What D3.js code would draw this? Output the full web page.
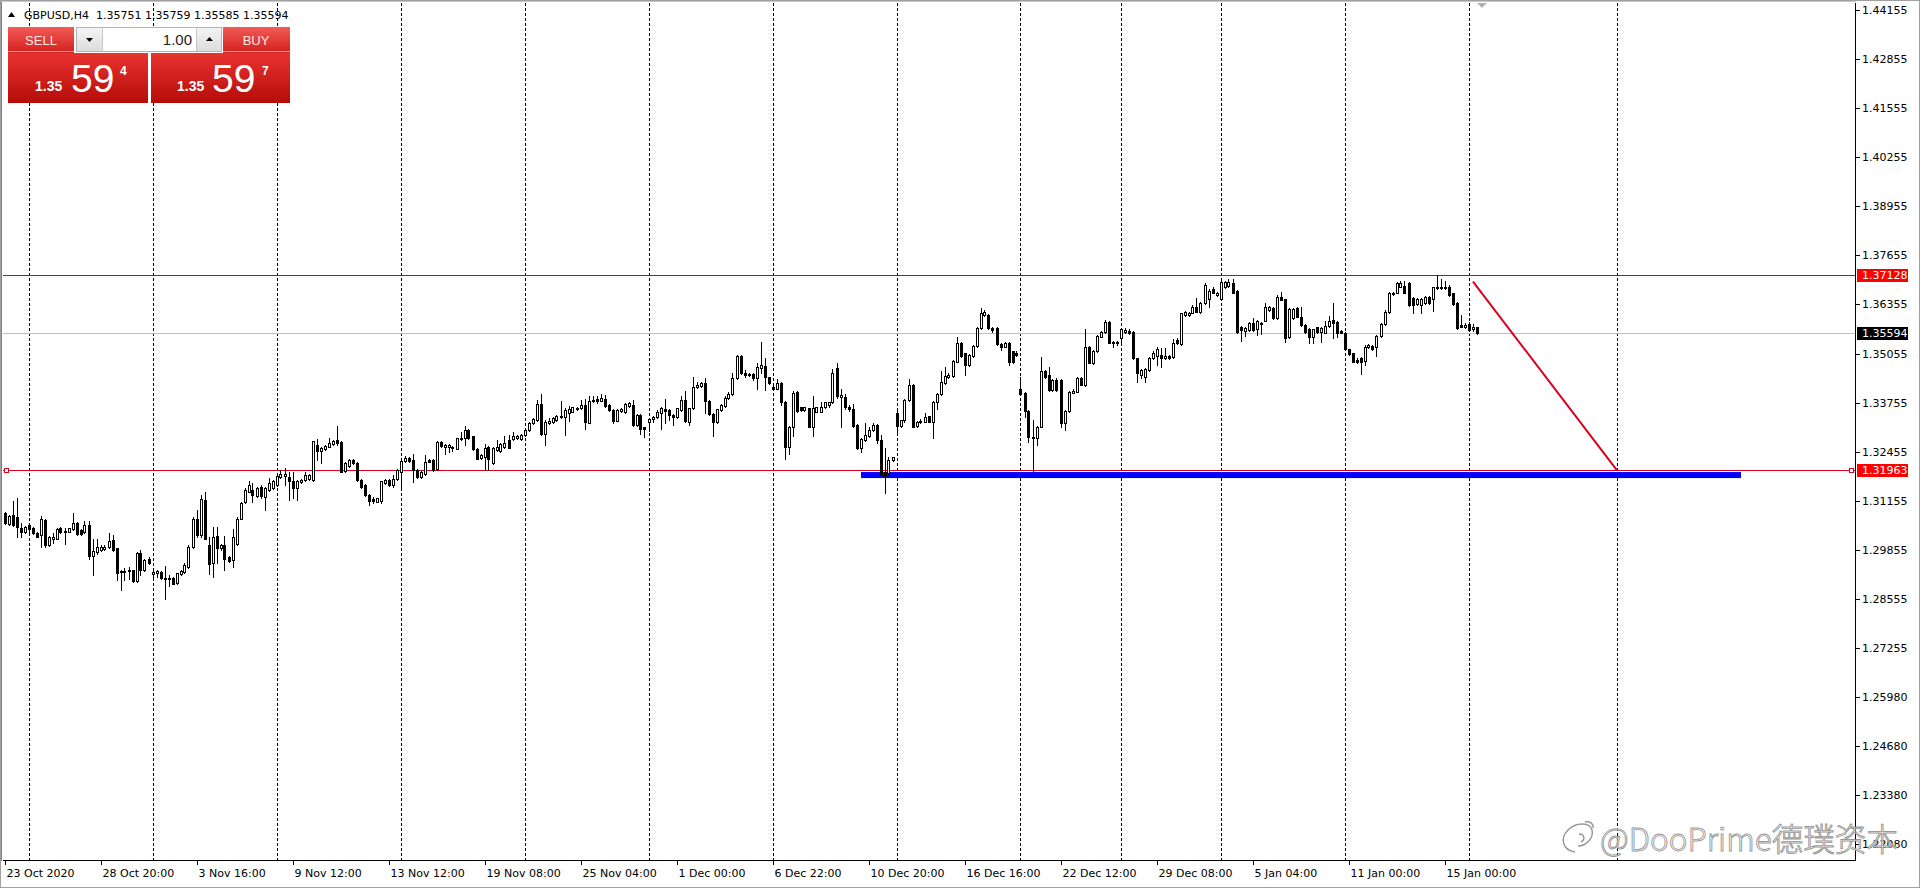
<!DOCTYPE html>
<html><head><meta charset="utf-8">
<script src="https://cdn.jsdelivr.net/npm/d3@7"></script>
<style>
html,body{margin:0;padding:0;background:#fff;overflow:hidden}
svg{display:block}
</style></head><body>
<svg id="chart" width="1920" height="888"></svg>
<script>
// ---------------- DATA ----------------
const symbolName = "GBPUSD,H4";
const currentBar = ["1.35751", "1.35759", "1.35585", "1.35594"];
// candles: [open, high, low, close], one per H4 bar, from 23 Oct 2020 00:00
const candles = [
[1.3083,1.3085,1.3054,1.3056],[1.3054,1.3078,1.3052,1.3076],[1.3078,1.3116,1.3049,1.3052],[1.3074,1.3122,1.3019,1.3047],
[1.3043,1.3058,1.3021,1.3034],[1.3034,1.3049,1.3031,1.3047],[1.3052,1.3056,1.3025,1.3041],[1.3043,1.3047,1.3028,1.3030],
[1.3031,1.3034,1.3019,1.3021],[1.3025,1.3076,1.2994,1.3067],[1.3065,1.3067,1.2994,1.2999],[1.2999,1.3023,1.2996,1.3021],
[1.3014,1.3031,1.3003,1.3021],[1.3016,1.3043,1.3015,1.3040],[1.3043,1.3047,1.3030,1.3034],[1.3037,1.3043,1.3001,1.3032],
[1.3034,1.3045,1.3032,1.3043],[1.3040,1.3083,1.3038,1.3058],[1.3058,1.3061,1.3025,1.3028],[1.3038,1.3040,1.3025,1.3028],
[1.3032,1.3063,1.3030,1.3052],[1.3052,1.3063,1.2963,1.2970],[1.2970,1.3014,1.2919,1.2984],[1.2981,1.3014,1.2975,1.2994],
[1.2985,1.2999,1.2984,1.2994],[1.2988,1.2998,1.2985,1.2994],[1.2994,1.3030,1.2990,1.3010],[1.3012,1.3025,1.2984,1.2985],
[1.2990,1.2990,1.2906,1.2926],[1.2931,1.2934,1.2881,1.2927],[1.2928,1.2937,1.2906,1.2931],[1.2931,1.2940,1.2908,1.2934],
[1.2933,1.2934,1.2902,1.2904],[1.2904,1.2981,1.2902,1.2978],[1.2978,1.2987,1.2919,1.2933],[1.2933,1.2961,1.2931,1.2959],
[1.2961,1.2966,1.2948,1.2950],[1.2922,1.2934,1.2915,1.2928],[1.2924,1.2934,1.2915,1.2931],[1.2928,1.2931,1.2909,1.2911],
[1.2911,1.2943,1.2855,1.2908],[1.2910,1.2919,1.2890,1.2912],[1.2911,1.2913,1.2896,1.2897],[1.2899,1.2926,1.2897,1.2924],
[1.2922,1.2933,1.2919,1.2931],[1.2928,1.2950,1.2926,1.2946],[1.2940,1.2999,1.2937,1.2994],[1.2994,1.3072,1.2990,1.3069],
[1.3069,1.3091,1.3021,1.3025],[1.3025,1.3131,1.3021,1.3120],[1.3118,1.3140,1.3014,1.3016],[1.2999,1.3021,1.2922,1.2948],
[1.2950,1.3047,1.2915,1.3021],[1.3023,1.3047,1.2950,1.2990],[1.2990,1.3001,1.2987,1.2999],[1.2999,1.3023,1.2933,1.2963],
[1.2966,1.2970,1.2955,1.2957],[1.2959,1.3040,1.2940,1.3021],[1.3001,1.3072,1.2999,1.3069],[1.3069,1.3113,1.3067,1.3111],
[1.3112,1.3149,1.3109,1.3144],[1.3140,1.3167,1.3138,1.3158],[1.3144,1.3162,1.3114,1.3131],[1.3129,1.3153,1.3127,1.3149],
[1.3153,1.3158,1.3122,1.3129],[1.3127,1.3153,1.3092,1.3149],[1.3144,1.3177,1.3142,1.3162],[1.3149,1.3171,1.3147,1.3167],
[1.3158,1.3186,1.3156,1.3182],[1.3180,1.3197,1.3177,1.3186],[1.3182,1.3202,1.3158,1.3186],[1.3180,1.3193,1.3118,1.3168],
[1.3168,1.3193,1.3124,1.3149],[1.3151,1.3170,1.3118,1.3168],[1.3165,1.3173,1.3163,1.3171],[1.3171,1.3193,1.3169,1.3184],
[1.3173,1.3186,1.3171,1.3184],[1.3171,1.3274,1.3168,1.3274],[1.3263,1.3279,1.3224,1.3248],[1.3248,1.3258,1.3215,1.3256],
[1.3253,1.3263,1.3251,1.3262],[1.3259,1.3283,1.3257,1.3270],[1.3265,1.3276,1.3263,1.3274],[1.3277,1.3315,1.3263,1.3268],
[1.3272,1.3274,1.3191,1.3193],[1.3196,1.3218,1.3193,1.3215],[1.3209,1.3226,1.3206,1.3224],[1.3224,1.3226,1.3212,1.3215],
[1.3215,1.3218,1.3168,1.3171],[1.3171,1.3173,1.3151,1.3153],[1.3158,1.3160,1.3129,1.3131],[1.3131,1.3133,1.3105,1.3115],
[1.3121,1.3127,1.3109,1.3115],[1.3114,1.3124,1.3112,1.3122],[1.3115,1.3168,1.3109,1.3167],[1.3162,1.3173,1.3160,1.3171],
[1.3171,1.3173,1.3156,1.3158],[1.3158,1.3184,1.3153,1.3173],[1.3173,1.3200,1.3171,1.3197],[1.3193,1.3221,1.3153,1.3221],
[1.3221,1.3235,1.3219,1.3230],[1.3230,1.3233,1.3219,1.3221],[1.3224,1.3241,1.3165,1.3197],[1.3197,1.3200,1.3175,1.3180],
[1.3180,1.3195,1.3177,1.3193],[1.3186,1.3237,1.3184,1.3218],[1.3224,1.3226,1.3218,1.3219],[1.3224,1.3226,1.3195,1.3197],
[1.3200,1.3274,1.3197,1.3272],[1.3272,1.3274,1.3259,1.3262],[1.3259,1.3265,1.3241,1.3263],[1.3259,1.3265,1.3244,1.3263],
[1.3259,1.3262,1.3248,1.3256],[1.3253,1.3283,1.3253,1.3281],[1.3279,1.3297,1.3277,1.3283],[1.3281,1.3315,1.3263,1.3303],
[1.3303,1.3306,1.3279,1.3281],[1.3286,1.3288,1.3250,1.3253],[1.3253,1.3255,1.3226,1.3226],[1.3228,1.3239,1.3226,1.3237],
[1.3233,1.3265,1.3197,1.3256],[1.3259,1.3262,1.3197,1.3226],[1.3215,1.3259,1.3212,1.3256],[1.3250,1.3277,1.3248,1.3259],
[1.3248,1.3268,1.3246,1.3265],[1.3259,1.3286,1.3256,1.3268],[1.3277,1.3290,1.3255,1.3256],[1.3279,1.3297,1.3277,1.3288],
[1.3281,1.3290,1.3279,1.3288],[1.3279,1.3292,1.3278,1.3290],[1.3290,1.3305,1.3288,1.3303],[1.3303,1.3325,1.3300,1.3321],
[1.3321,1.3336,1.3318,1.3332],[1.3330,1.3383,1.3327,1.3371],[1.3372,1.3399,1.3291,1.3293],[1.3293,1.3330,1.3264,1.3325],
[1.3321,1.3334,1.3319,1.3328],[1.3325,1.3337,1.3323,1.3334],[1.3330,1.3343,1.3328,1.3340],[1.3337,1.3381,1.3335,1.3340],
[1.3337,1.3361,1.3290,1.3356],[1.3349,1.3367,1.3328,1.3358],[1.3352,1.3365,1.3350,1.3363],[1.3361,1.3363,1.3356,1.3358],
[1.3361,1.3383,1.3359,1.3369],[1.3369,1.3384,1.3305,1.3325],[1.3323,1.3392,1.3321,1.3381],[1.3380,1.3392,1.3378,1.3383],
[1.3384,1.3393,1.3374,1.3381],[1.3381,1.3399,1.3379,1.3388],[1.3384,1.3396,1.3365,1.3367],[1.3369,1.3372,1.3354,1.3356],
[1.3356,1.3358,1.3321,1.3328],[1.3328,1.3358,1.3326,1.3356],[1.3353,1.3362,1.3351,1.3360],[1.3352,1.3374,1.3349,1.3372],
[1.3367,1.3378,1.3365,1.3374],[1.3369,1.3383,1.3314,1.3316],[1.3316,1.3346,1.3315,1.3343],[1.3343,1.3346,1.3293,1.3305],
[1.3310,1.3312,1.3284,1.3307],[1.3325,1.3334,1.3301,1.3331],[1.3331,1.3339,1.3325,1.3337],[1.3337,1.3356,1.3335,1.3352],
[1.3349,1.3363,1.3305,1.3361],[1.3358,1.3384,1.3321,1.3354],[1.3356,1.3358,1.3330,1.3343],[1.3343,1.3346,1.3316,1.3337],
[1.3337,1.3362,1.3335,1.3361],[1.3356,1.3393,1.3354,1.3383],[1.3383,1.3407,1.3325,1.3328],[1.3325,1.3362,1.3316,1.3361],
[1.3361,1.3443,1.3359,1.3416],[1.3416,1.3431,1.3414,1.3422],[1.3420,1.3431,1.3418,1.3427],[1.3427,1.3440,1.3349,1.3381],
[1.3381,1.3383,1.3344,1.3346],[1.3346,1.3348,1.3286,1.3325],[1.3325,1.3360,1.3323,1.3358],[1.3356,1.3372,1.3354,1.3369],
[1.3367,1.3392,1.3365,1.3388],[1.3388,1.3405,1.3386,1.3399],[1.3399,1.3455,1.3397,1.3440],[1.3440,1.3502,1.3438,1.3499],
[1.3499,1.3501,1.3451,1.3453],[1.3455,1.3462,1.3444,1.3449],[1.3449,1.3455,1.3447,1.3451],[1.3451,1.3453,1.3435,1.3440],
[1.3440,1.3480,1.3413,1.3469],[1.3466,1.3537,1.3453,1.3475],[1.3473,1.3493,1.3409,1.3443],[1.3443,1.3444,1.3425,1.3427],
[1.3418,1.3422,1.3409,1.3411],[1.3413,1.3437,1.3412,1.3427],[1.3427,1.3429,1.3369,1.3376],[1.3378,1.3381,1.3226,1.3257],
[1.3257,1.3314,1.3241,1.3312],[1.3312,1.3407,1.3286,1.3402],[1.3405,1.3407,1.3352,1.3354],[1.3363,1.3365,1.3354,1.3356],
[1.3356,1.3365,1.3354,1.3363],[1.3361,1.3362,1.3310,1.3312],[1.3312,1.3393,1.3287,1.3361],[1.3352,1.3365,1.3350,1.3363],
[1.3352,1.3378,1.3350,1.3365],[1.3363,1.3378,1.3362,1.3376],[1.3369,1.3378,1.3363,1.3376],[1.3376,1.3464,1.3374,1.3455],
[1.3466,1.3480,1.3388,1.3392],[1.3390,1.3411,1.3312,1.3396],[1.3391,1.3398,1.3360,1.3363],[1.3363,1.3369,1.3354,1.3358],
[1.3358,1.3371,1.3312,1.3314],[1.3316,1.3318,1.3252,1.3255],[1.3255,1.3281,1.3246,1.3279],[1.3277,1.3321,1.3275,1.3290],
[1.3288,1.3312,1.3285,1.3303],[1.3303,1.3323,1.3301,1.3316],[1.3316,1.3319,1.3268,1.3277],[1.3277,1.3290,1.3183,1.3184],
[1.3193,1.3255,1.3136,1.3182],[1.3190,1.3233,1.3184,1.3224],[1.3224,1.3233,1.3222,1.3231],[1.3349,1.3356,1.3290,1.3314],
[1.3314,1.3330,1.3312,1.3330],[1.3330,1.3386,1.3325,1.3383],[1.3383,1.3437,1.3381,1.3422],[1.3422,1.3425,1.3310,1.3310],
[1.3314,1.3328,1.3312,1.3325],[1.3325,1.3331,1.3323,1.3328],[1.3325,1.3347,1.3324,1.3338],[1.3340,1.3341,1.3324,1.3325],
[1.3325,1.3380,1.3281,1.3378],[1.3378,1.3400,1.3358,1.3398],[1.3398,1.3458,1.3396,1.3431],[1.3428,1.3471,1.3426,1.3446],
[1.3444,1.3453,1.3442,1.3449],[1.3446,1.3488,1.3444,1.3487],[1.3484,1.3550,1.3482,1.3533],[1.3534,1.3537,1.3497,1.3499],
[1.3506,1.3508,1.3449,1.3475],[1.3475,1.3503,1.3473,1.3502],[1.3499,1.3528,1.3497,1.3525],[1.3525,1.3577,1.3524,1.3572],
[1.3572,1.3625,1.3570,1.3612],[1.3607,1.3620,1.3605,1.3616],[1.3607,1.3610,1.3570,1.3572],[1.3572,1.3575,1.3563,1.3568],
[1.3572,1.3575,1.3528,1.3531],[1.3531,1.3534,1.3516,1.3524],[1.3524,1.3537,1.3522,1.3534],[1.3534,1.3537,1.3475,1.3484],
[1.3511,1.3513,1.3481,1.3484],[1.3506,1.3511,1.3499,1.3502],[1.3413,1.3444,1.3396,1.3398],[1.3402,1.3405,1.3338,1.3354],
[1.3354,1.3356,1.3272,1.3284],[1.3284,1.3330,1.3193,1.3281],[1.3281,1.3314,1.3263,1.3312],[1.3312,1.3497,1.3310,1.3458],
[1.3458,1.3462,1.3442,1.3444],[1.3449,1.3471,1.3407,1.3409],[1.3409,1.3437,1.3407,1.3435],[1.3435,1.3440,1.3407,1.3409],
[1.3435,1.3437,1.3310,1.3321],[1.3321,1.3356,1.3303,1.3354],[1.3354,1.3407,1.3352,1.3405],[1.3402,1.3411,1.3400,1.3407],
[1.3405,1.3444,1.3403,1.3440],[1.3440,1.3443,1.3421,1.3422],[1.3422,1.3570,1.3420,1.3524],[1.3524,1.3525,1.3481,1.3481],
[1.3481,1.3515,1.3479,1.3513],[1.3511,1.3554,1.3509,1.3552],[1.3550,1.3566,1.3548,1.3563],[1.3563,1.3594,1.3561,1.3590],
[1.3590,1.3592,1.3533,1.3534],[1.3537,1.3540,1.3524,1.3533],[1.3533,1.3540,1.3527,1.3537],[1.3546,1.3572,1.3533,1.3570],
[1.3563,1.3572,1.3559,1.3568],[1.3566,1.3570,1.3557,1.3561],[1.3563,1.3566,1.3490,1.3493],[1.3493,1.3495,1.3431,1.3453],
[1.3449,1.3464,1.3440,1.3462],[1.3444,1.3466,1.3431,1.3464],[1.3462,1.3497,1.3460,1.3493],[1.3493,1.3511,1.3490,1.3508],
[1.3499,1.3522,1.3475,1.3517],[1.3502,1.3519,1.3471,1.3493],[1.3493,1.3519,1.3490,1.3499],[1.3499,1.3502,1.3490,1.3493],
[1.3496,1.3543,1.3493,1.3534],[1.3541,1.3546,1.3531,1.3533],[1.3531,1.3614,1.3529,1.3612],[1.3608,1.3619,1.3606,1.3616],
[1.3608,1.3616,1.3605,1.3614],[1.3614,1.3634,1.3612,1.3629],[1.3629,1.3652,1.3616,1.3616],[1.3616,1.3643,1.3614,1.3640],
[1.3638,1.3691,1.3636,1.3687],[1.3649,1.3676,1.3628,1.3672],[1.3676,1.3681,1.3665,1.3667],[1.3661,1.3669,1.3658,1.3667],
[1.3649,1.3700,1.3647,1.3696],[1.3681,1.3698,1.3679,1.3696],[1.3684,1.3702,1.3682,1.3696],[1.3693,1.3702,1.3665,1.3667],
[1.3672,1.3674,1.3561,1.3563],[1.3575,1.3578,1.3540,1.3568],[1.3566,1.3577,1.3552,1.3572],[1.3568,1.3590,1.3566,1.3587],
[1.3587,1.3599,1.3566,1.3568],[1.3570,1.3594,1.3555,1.3592],[1.3587,1.3590,1.3557,1.3584],[1.3592,1.3640,1.3591,1.3629],
[1.3621,1.3631,1.3619,1.3629],[1.3625,1.3628,1.3597,1.3599],[1.3599,1.3661,1.3597,1.3656],[1.3656,1.3669,1.3646,1.3647],
[1.3649,1.3651,1.3537,1.3546],[1.3548,1.3625,1.3546,1.3623],[1.3599,1.3625,1.3597,1.3623],[1.3625,1.3628,1.3601,1.3603],
[1.3603,1.3628,1.3578,1.3581],[1.3581,1.3584,1.3561,1.3563],[1.3570,1.3572,1.3534,1.3548],[1.3548,1.3571,1.3533,1.3570],
[1.3575,1.3577,1.3561,1.3563],[1.3563,1.3575,1.3537,1.3572],[1.3561,1.3592,1.3559,1.3578],[1.3578,1.3605,1.3577,1.3592],
[1.3594,1.3638,1.3546,1.3587],[1.3590,1.3592,1.3548,1.3561],[1.3566,1.3568,1.3559,1.3561],[1.3561,1.3562,1.3515,1.3517],
[1.3517,1.3518,1.3502,1.3504],[1.3506,1.3508,1.3484,1.3484],[1.3488,1.3493,1.3481,1.3484],[1.3493,1.3497,1.3451,1.3484],
[1.3487,1.3528,1.3475,1.3524],[1.3522,1.3531,1.3519,1.3528],[1.3525,1.3528,1.3515,1.3517],[1.3522,1.3555,1.3499,1.3552],
[1.3552,1.3585,1.3550,1.3584],[1.3584,1.3621,1.3582,1.3616],[1.3616,1.3669,1.3614,1.3665],[1.3663,1.3669,1.3661,1.3667],
[1.3667,1.3696,1.3665,1.3691],[1.3682,1.3698,1.3681,1.3691],[1.3684,1.3698,1.3665,1.3667],[1.3693,1.3696,1.3631,1.3634],
[1.3652,1.3654,1.3612,1.3634],[1.3636,1.3652,1.3634,1.3649],[1.3634,1.3652,1.3614,1.3649],[1.3638,1.3658,1.3636,1.3656],
[1.3656,1.3658,1.3636,1.3638],[1.3649,1.3682,1.3619,1.3681],[1.3681,1.3713,1.3676,1.3678],[1.3678,1.3702,1.3676,1.3682],
[1.3682,1.3698,1.3676,1.3678],[1.3682,1.3687,1.3658,1.3661],[1.3665,1.3667,1.3634,1.3636],[1.3640,1.3643,1.3570,1.3572],
[1.3581,1.3608,1.3575,1.3577],[1.3577,1.3585,1.3572,1.3581],[1.3584,1.3590,1.3566,1.3568],[1.3570,1.3584,1.3566,1.3577],
[1.35751,1.35759,1.35585,1.35594]
];
// time-axis labels, one every 24 bars starting at bar 0
const timeLabels = ["23 Oct 2020","28 Oct 20:00","3 Nov 16:00","9 Nov 12:00","13 Nov 12:00","19 Nov 08:00",
  "25 Nov 04:00","1 Dec 00:00","6 Dec 22:00","10 Dec 20:00","16 Dec 16:00","22 Dec 12:00","29 Dec 08:00",
  "5 Jan 04:00","11 Jan 00:00","15 Jan 00:00"];
const barsPerLabel = 24;
// weekly grid lines (bar index of each week's first bar)
const gridBars = [6,37,68,99,130,161,192,223,254,279,304,335,366,403];
const priceTicks = [1.44155,1.42855,1.41555,1.40255,1.38955,1.37655,1.36355,1.35055,1.33755,1.32455,
  1.31155,1.29855,1.28555,1.27255,1.25980,1.24680,1.23380,1.22080];
const resistance = 1.37128;
const support = 1.31963;
const bidPrice = 1.35594;
const trendLine = [[367, 1.3696], [403, 1.31963]];   // [bar, price]
const zoneBars = [214, 434];
const zonePrices = [1.3192, 1.3176];
const lotSize = "1.00";
const sellQuote = ["1.35", "59", "4"];
const buyQuote  = ["1.35", "59", "7"];
const watermark = "@DooPrime德璞资本";
const totalSlots = 463;

// ---------------- LAYOUT ----------------
const W = 1920, H = 888;
const P = {left: 3, right: 1855, top: 3, bottom: 860};
const FONT = "'DejaVu Sans', Verdana, sans-serif";
const svg = d3.select("#chart");

const x = d3.scaleLinear().domain([-0.5, totalSlots - 0.5]).range([P.left, P.right]);
const y = d3.scaleLinear().domain([support, resistance]).range([470.4, 275.2]);

svg.append("rect").attr("width", W).attr("height", H).attr("fill", "#fff");

const defs = svg.append("defs");
defs.append("clipPath").attr("id", "plotClip").append("rect")
  .attr("x", P.left).attr("y", P.top).attr("width", P.right - P.left).attr("height", P.bottom - P.top);
function grad(id, c1, c2) {
  const g = defs.append("linearGradient").attr("id", id).attr("x1", 0).attr("y1", 0).attr("x2", 0).attr("y2", 1);
  g.append("stop").attr("offset", "0%").attr("stop-color", c1);
  g.append("stop").attr("offset", "100%").attr("stop-color", c2);
}
grad("gHead", "#f25a55", "#d2201d");
grad("gBox", "#e8332f", "#b50c0a");
grad("gBtn", "#f4f4f4", "#dcdcdc");

const plot = svg.append("g").attr("clip-path", "url(#plotClip)");
const px = v => Math.floor(v) + 0.5;

// vertical dashed grid
plot.selectAll("line.grid").data(gridBars).join("line").attr("class", "grid")
  .attr("x1", d => px(x(d))).attr("x2", d => px(x(d)))
  .attr("y1", P.top).attr("y2", P.bottom)
  .attr("stroke", "#000").attr("stroke-width", 1).attr("stroke-dasharray", "3,2");

// bid line
plot.append("line").attr("x1", P.left).attr("x2", P.right)
  .attr("y1", px(y(bidPrice))).attr("y2", px(y(bidPrice))).attr("stroke", "#c0c0c0");

// blue zone
plot.append("rect")
  .attr("x", x(zoneBars[0])).attr("width", x(zoneBars[1]) - x(zoneBars[0]))
  .attr("y", y(zonePrices[0])).attr("height", y(zonePrices[1]) - y(zonePrices[0]))
  .attr("fill", "#0000ff");

// horizontal levels
[resistance, support].forEach(p => {
  plot.append("line").attr("x1", P.left).attr("x2", P.right)
    .attr("y1", px(y(p))).attr("y2", px(y(p))).attr("stroke", "#d8001e").attr("stroke-width", 1);
});
// selection squares on the support line
[P.left + 1, P.right - 6].forEach(sx => {
  svg.append("rect").attr("x", sx + 0.5).attr("y", Math.floor(y(support)) - 2 + 0.5)
    .attr("width", 4).attr("height", 4).attr("fill", "#fff").attr("stroke", "#d8001e");
});

// trend line
plot.append("line")
  .attr("x1", x(trendLine[0][0])).attr("y1", y(trendLine[0][1]))
  .attr("x2", x(trendLine[1][0])).attr("y2", y(trendLine[1][1]))
  .attr("stroke", "#d8001e").attr("stroke-width", 2);

// candles
const cg = plot.append("g");
candles.forEach((c, i) => {
  const [o, h, l, cl] = c;
  const cx = Math.floor(x(i));
  const bull = cl >= o;
  const yt = Math.round(y(Math.max(o, cl))), yb = Math.round(y(Math.min(o, cl)));
  cg.append("line").attr("x1", cx + 0.5).attr("x2", cx + 0.5)
    .attr("y1", Math.round(y(h))).attr("y2", Math.round(y(l)) + 1)
    .attr("stroke", "#000").attr("stroke-width", 1);
  if (yb - yt < 1) {
    cg.append("line").attr("x1", cx - 1).attr("x2", cx + 2)
      .attr("y1", yt + 0.5).attr("y2", yt + 0.5).attr("stroke", "#000");
  } else {
    cg.append("rect").attr("x", cx - 0.5).attr("y", yt + 0.5)
      .attr("width", 2).attr("height", yb - yt)
      .attr("fill", bull ? "#fff" : "#000").attr("stroke", "#000").attr("stroke-width", 1);
  }
});

// chart shift marker
svg.append("path").attr("d", "M1477,3 L1487,3 L1482,8 Z").attr("fill", "#b0b0b0");

// frame
svg.append("rect").attr("x", 0.5).attr("y", 0.5).attr("width", W - 1).attr("height", H - 1)
  .attr("fill", "none").attr("stroke", "#a0a0a0");
svg.append("line").attr("x1", 1.5).attr("x2", 1.5).attr("y1", 1).attr("y2", P.bottom + 1).attr("stroke", "#808080");
svg.append("line").attr("x1", 1).attr("x2", P.right + 1).attr("y1", 1.5).attr("y2", 1.5).attr("stroke", "#c8c8c8");
svg.append("line").attr("x1", P.right + 0.5).attr("x2", P.right + 0.5).attr("y1", P.top).attr("y2", P.bottom + 1).attr("stroke", "#000");
svg.append("line").attr("x1", P.left).attr("x2", P.right + 1).attr("y1", P.bottom + 0.5).attr("y2", P.bottom + 0.5).attr("stroke", "#000");

// price axis
const pa = svg.append("g");
priceTicks.forEach(t => {
  const ty = Math.round(y(t));
  pa.append("line").attr("x1", P.right + 1).attr("x2", P.right + 5).attr("y1", ty + 0.5).attr("y2", ty + 0.5).attr("stroke", "#000");
  pa.append("text").attr("x", P.right + 7).attr("y", ty).attr("dy", "0.36em")
    .attr("font-family", FONT).attr("font-size", 11).attr("fill", "#000").text(t.toFixed(5));
});
function priceTag(p, bg) {
  const ty = y(p);
  pa.append("rect").attr("x", P.right + 2).attr("y", Math.round(ty) - 6).attr("width", 51).attr("height", 13).attr("fill", bg);
  pa.append("text").attr("x", P.right + 7).attr("y", Math.round(ty)).attr("dy", "0.36em")
    .attr("font-family", FONT).attr("font-size", 11).attr("fill", "#fff").text(p.toFixed(5));
}
priceTag(resistance, "#ff0000");
priceTag(support, "#ff0000");
priceTag(bidPrice, "#000");

// time axis
const ta = svg.append("g");
timeLabels.forEach((lab, k) => {
  const tx = Math.floor(x(k * barsPerLabel)) + 0.5;
  ta.append("line").attr("x1", tx).attr("x2", tx).attr("y1", P.bottom + 1).attr("y2", P.bottom + 5).attr("stroke", "#000");
  ta.append("text").attr("x", tx + 1).attr("y", P.bottom + 17)
    .attr("font-family", FONT).attr("font-size", 11).attr("fill", "#000").text(lab);
});

// header
svg.append("path").attr("d", "M8,17 L15,17 L11.5,12 Z").attr("fill", "#000");
svg.append("text").attr("x", 24).attr("y", 19).attr("font-family", FONT).attr("font-size", 11).attr("fill", "#000").text(symbolName);
svg.append("text").attr("x", 96).attr("y", 19).attr("font-family", FONT).attr("font-size", 11).attr("fill", "#000")
  .text(currentBar.join(" "));

// one-click trading panel
const PF = "'Liberation Sans', Arial, sans-serif";
const pn = svg.append("g");
pn.append("rect").attr("x", 8).attr("y", 27).attr("width", 66).attr("height", 26).attr("fill", "url(#gHead)");
pn.append("rect").attr("x", 223).attr("y", 27).attr("width", 67).attr("height", 26).attr("fill", "url(#gHead)");
pn.append("line").attr("x1", 8).attr("x2", 74).attr("y1", 51.5).attr("y2", 51.5).attr("stroke", "#f59a96");
pn.append("line").attr("x1", 223).attr("x2", 290).attr("y1", 51.5).attr("y2", 51.5).attr("stroke", "#f59a96");
pn.append("rect").attr("x", 8).attr("y", 53).attr("width", 140).attr("height", 50).attr("fill", "url(#gBox)");
pn.append("rect").attr("x", 151).attr("y", 53).attr("width", 139).attr("height", 50).attr("fill", "url(#gBox)");
pn.append("rect").attr("x", 76.5).attr("y", 27.5).attr("width", 145).attr("height", 24).attr("fill", "#fff").attr("stroke", "#b4b4b4");
pn.append("rect").attr("x", 77).attr("y", 28).attr("width", 25).attr("height", 23).attr("fill", "url(#gBtn)");
pn.append("rect").attr("x", 197).attr("y", 28).attr("width", 24).attr("height", 23).attr("fill", "url(#gBtn)");
pn.append("line").attr("x1", 102.5).attr("x2", 102.5).attr("y1", 28).attr("y2", 51).attr("stroke", "#c8c8c8");
pn.append("line").attr("x1", 196.5).attr("x2", 196.5).attr("y1", 28).attr("y2", 51).attr("stroke", "#c8c8c8");
pn.append("path").attr("d", "M86,38 L93,38 L89.5,42 Z").attr("fill", "#000");
pn.append("path").attr("d", "M206,41 L213,41 L209.5,37 Z").attr("fill", "#000");
pn.append("text").attr("x", 192).attr("y", 45).attr("text-anchor", "end").attr("font-family", PF).attr("font-size", 15).attr("fill", "#222").text(lotSize);
pn.append("text").attr("x", 41).attr("y", 45).attr("text-anchor", "middle").attr("font-family", PF).attr("font-size", 13).attr("fill", "#fde6e6").text("SELL");
pn.append("text").attr("x", 256).attr("y", 45).attr("text-anchor", "middle").attr("font-family", PF).attr("font-size", 13).attr("fill", "#fde6e6").text("BUY");
function quote(q, x0, xBig, xSup) {
  pn.append("text").attr("x", x0).attr("y", 91).attr("font-family", PF).attr("font-weight", "bold").attr("font-size", 14).attr("fill", "#fff").text(q[0]);
  pn.append("text").attr("x", xBig).attr("y", 92).attr("font-family", PF).attr("font-size", 39).attr("fill", "#fff").text(q[1]);
  pn.append("text").attr("x", xSup).attr("y", 75).attr("font-family", PF).attr("font-weight", "bold").attr("font-size", 12).attr("fill", "#fff").text(q[2]);
}
quote(sellQuote, 35, 71, 120);
quote(buyQuote, 177, 212, 262);

// watermark
const wm = svg.append("g").attr("opacity", 0.9);
wm.append("path")
  .attr("d", "M1575,852 C1562,850 1560,838 1568,830 C1576,822 1590,822 1592,830 C1594,838 1586,846 1578,846 M1579,834 C1584,834 1586,839 1581,842 M1585,822 C1590,821 1594,824 1593,828")
  .attr("fill", "none").attr("stroke", "#8a8a8a").attr("stroke-width", 1.4);
wm.append("text").attr("x", 1600).attr("y", 851).attr("font-family", "'Noto Sans CJK SC', 'DejaVu Sans', sans-serif")
  .attr("font-weight", 300).attr("font-size", 32).attr("textLength", 298).attr("lengthAdjust", "spacingAndGlyphs")
  .attr("fill", "#fff").attr("stroke", "#8c8c8c").attr("stroke-width", 0.9).text(watermark);
</script>
</body></html>
